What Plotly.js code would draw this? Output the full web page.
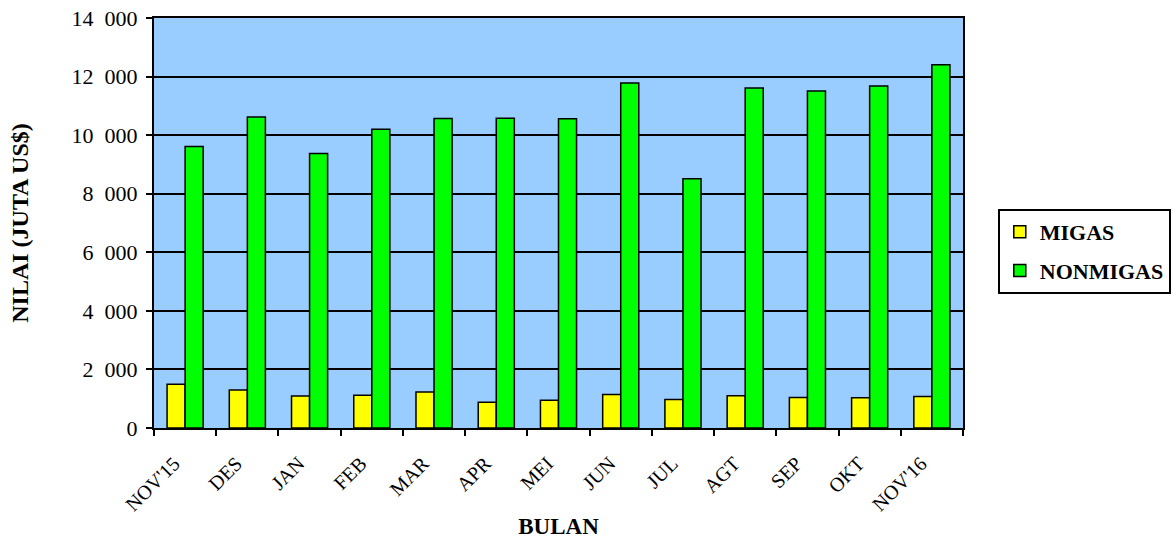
<!DOCTYPE html>
<html>
<head>
<meta charset="utf-8">
<script src="https://cdn.plot.ly/plotly-3.0.1.min.js"></script>
<style>html,body{margin:0;padding:0;background:#fff}#chart{width:1173px;height:539px}</style>
</head>
<body>
<div id="chart"></div>
<script>
const months = ["NOV'15","DES","JAN","FEB","MAR","APR","MEI","JUN","JUL","AGT","SEP","OKT","NOV'16"];
const migas = [1494, 1300, 1095, 1117, 1231, 878, 946, 1143, 971, 1097, 1040, 1029, 1074];
const nonmigas = [9612, 10616, 9373, 10205, 10570, 10581, 10559, 11783, 8514, 11611, 11509, 11680, 12400];
const yTicks = [0, 2000, 4000, 6000, 8000, 10000, 12000, 14000];
const yTickLabels = ["0", "2\u2007000", "4\u2007000", "6\u2007000", "8\u2007000", "10\u2007000", "12\u2007000", "14\u2007000"];

const font = "'Liberation Serif', 'Times New Roman', serif";
const traces = [
  {type:'bar', name:'MIGAS', x:months, y:migas, legendgroup:'a',
   marker:{color:'#FFFF00', line:{color:'#000', width:1.5}}},
  {type:'bar', name:'NONMIGAS', x:months, y:nonmigas, legendgroup:'b',
   marker:{color:'#00FF00', line:{color:'#000', width:1.5}}}
];
const layout = {
  width:1173, height:539,
  margin:{l:153.5, r:210, t:18, b:111, pad:0, autoexpand:false},
  paper_bgcolor:'#fff', plot_bgcolor:'#99CCFF',
  font:{family:font, size:20, color:'#000'},
  barmode:'group', bargap:0.42, bargroupgap:0,
  showlegend:true,
  legend:{x:1.043, y:0.534, xanchor:'left', yanchor:'top',
    bordercolor:'#000', borderwidth:2, bgcolor:'#fff',
    font:{family:font, size:22, color:'#000', weight:'bold'},
    itemwidth:30, traceorder:'grouped', tracegroupgap:7},
  xaxis:{type:'category', tickson:'boundaries', ticks:'outside', ticklen:6, tickwidth:2, tickcolor:'#000',
    tickangle:-45, showline:true, mirror:true, linecolor:'#000', linewidth:2,
    showgrid:false, automargin:false, ticklabelstandoff:14, ticklabelshift:-11,
    tickfont:{family:font, size:20},
    title:{text:'BULAN', font:{family:font, size:23, weight:'bold'}, standoff:8}},
  yaxis:{range:[0,14000], tickvals:yTicks, ticktext:yTickLabels, ticks:'outside', ticklen:6, tickwidth:2, tickcolor:'#000',
    showline:true, mirror:true, linecolor:'#000', linewidth:2,
    showgrid:true, gridcolor:'#000', gridwidth:2, zeroline:false, automargin:false,
    ticklabelstandoff:4,
    tickfont:{family:font, size:22},
    title:{text:'NILAI (JUTA US$)', font:{family:font, size:24, weight:'bold'}, standoff:36}}
};
Plotly.newPlot('chart', traces, layout, {displayModeBar:false, staticPlot:true});
</script>
</body>
</html>
